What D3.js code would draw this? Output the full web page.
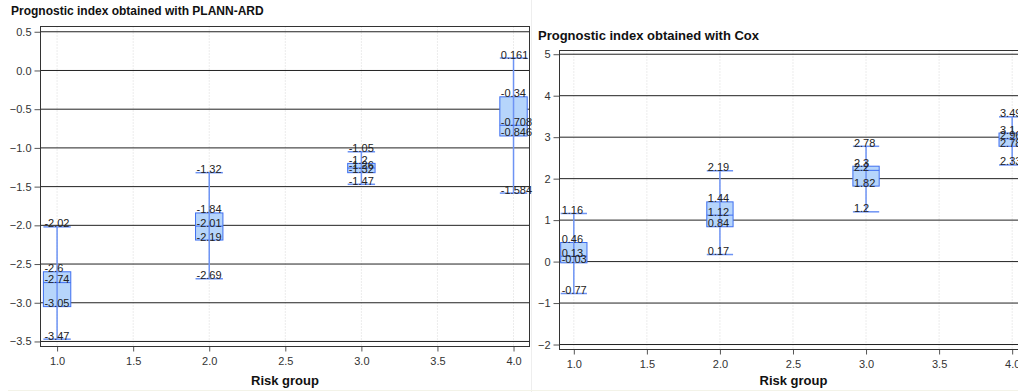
<!DOCTYPE html>
<html>
<head>
<meta charset="utf-8">
<script src="https://cdn.jsdelivr.net/npm/d3@7"></script>
<style>
  html, body { margin: 0; padding: 0; background: #fff; }
  svg { display: block; font-family: "Liberation Sans", Arial, sans-serif; }
</style>
</head>
<body>
<svg id="rootSVG" width="1018" height="392"></svg>
<script>
const riskGroups = [1, 2, 3, 4];
const xTicks = [1.0, 1.5, 2.0, 2.5, 3.0, 3.5, 4.0];

// PLANN-ARD prognostic index: whisker top, Q3, median, Q1, whisker bottom
const plannUpper = [-2.02, -1.32, -1.05, 0.161];
const plannQ3 = [-2.6, -1.84, -1.2, -0.34];
const plannMedian = [-2.74, -2.01, -1.26, -0.708];
const plannQ1 = [-3.05, -2.19, -1.32, -0.846];
const plannLower = [-3.47, -2.69, -1.47, -1.584];
const plannYTicks = [0.5, 0.0, -0.5, -1.0, -1.5, -2.0, -2.5, -3.0, -3.5];

// Cox prognostic index
const coxUpper = [1.16, 2.19, 2.78, 3.49];
const coxQ3 = [0.46, 1.44, 2.3, 3.1];
const coxMedian = [0.13, 1.12, 2.2, 2.96];
const coxQ1 = [-0.03, 0.84, 1.82, 2.78];
const coxLower = [-0.77, 0.17, 1.2, 2.33];
const coxYTicks = [5, 4, 3, 2, 1, 0, -1, -2];

const svg = d3.select("#rootSVG");

// faint page edges
svg.append("line").attr("x1", 531.5).attr("x2", 531.5).attr("y1", 0).attr("y2", 392)
  .attr("stroke", "#eeeeee");
svg.append("line").attr("x1", 8).attr("x2", 1018).attr("y1", 390.5).attr("y2", 390.5)
  .attr("stroke", "#f3f3e8");

function drawPanel(opts) {
  const g = svg.append("g");
  const x = d3.scaleLinear().domain(opts.xDomain).range(opts.xRange);
  const y = d3.scaleLinear().domain(opts.yDomain).range(opts.yRange);
  const [left, right] = opts.xRange;
  const [top, bottom] = opts.yRange;

  g.append("text").attr("x", opts.titleX).attr("y", opts.titleY)
    .attr("font-size", opts.titleSize).attr("font-weight", "bold").attr("fill", "#111")
    .text(opts.title);

  // vertical dotted grid
  g.selectAll(".vgrid").data(xTicks).enter().append("line")
    .attr("x1", d => x(d)).attr("x2", d => x(d))
    .attr("y1", top).attr("y2", bottom)
    .attr("stroke", "#d8d8d8").attr("stroke-dasharray", "1,2");

  // horizontal grid lines
  g.selectAll(".hgrid").data(opts.yTicks).enter().append("line")
    .attr("x1", left).attr("x2", right)
    .attr("y1", d => y(d)).attr("y2", d => y(d))
    .attr("stroke", "#222").attr("stroke-width", 1);

  const yAxis = g.append("g").attr("transform", `translate(${left},0)`)
    .call(d3.axisLeft(y).tickValues(opts.yTicks).tickFormat(opts.yFormat).tickSize(6).tickPadding(3));
  const xAxis = g.append("g").attr("transform", `translate(0,${bottom})`)
    .call(d3.axisBottom(x).tickValues(xTicks).tickFormat(d3.format(".1f")).tickSize(5).tickPadding(6));
  [yAxis, xAxis].forEach(a => {
    a.select(".domain").remove();
    a.selectAll(".tick line").attr("stroke", "#555");
    a.selectAll(".tick text").attr("fill", "#333").attr("font-size", 11)
      .attr("font-family", "Liberation Sans, Arial, sans-serif");
  });

  g.append("rect").attr("x", left).attr("y", top)
    .attr("width", right - left).attr("height", bottom - top)
    .attr("fill", "none").attr("stroke", "#333");

  g.append("text").attr("x", (left + right) / 2).attr("y", 385)
    .attr("text-anchor", "middle").attr("font-size", 13).attr("font-weight", "bold")
    .attr("fill", "#111").text("Risk group");

  const half = 0.09;
  const boxes = riskGroups.map((grp, i) => ({
    grp, hi: opts.upper[i], q3: opts.q3[i], med: opts.median[i], q1: opts.q1[i], lo: opts.lower[i]
  }));

  const b = g.selectAll(".box").data(boxes).enter().append("g");
  b.append("rect")
    .attr("x", d => x(d.grp - half)).attr("width", d => x(d.grp + half) - x(d.grp - half))
    .attr("y", d => y(d.q3)).attr("height", d => y(d.q1) - y(d.q3))
    .attr("fill", "#b6d5fb").attr("stroke", "#3f6ff0");
  b.append("line")
    .attr("x1", d => x(d.grp)).attr("x2", d => x(d.grp))
    .attr("y1", d => y(d.hi)).attr("y2", d => y(d.lo))
    .attr("stroke", "#6d93f4").attr("stroke-width", 1.5);
  b.append("line")
    .attr("x1", d => x(d.grp - half)).attr("x2", d => x(d.grp + half))
    .attr("y1", d => y(d.med)).attr("y2", d => y(d.med))
    .attr("stroke", "#3f6ff0");
  ["hi", "lo"].forEach(k => {
    b.append("line")
      .attr("x1", d => x(d.grp - half)).attr("x2", d => x(d.grp + half))
      .attr("y1", d => y(d[k])).attr("y2", d => y(d[k]))
      .attr("stroke", "#6d93f4").attr("stroke-width", 1.5);
  });
  ["hi", "q3", "med", "q1", "lo"].forEach(k => {
    b.append("text")
      .attr("x", d => x(d.grp - half) + 1).attr("y", d => y(d[k]) + 0.5)
      .attr("font-size", 11).attr("fill", "#222")
      .text(d => String(d[k]));
  });
}

drawPanel({
  title: "Prognostic index obtained with PLANN-ARD", titleX: 11, titleY: 15, titleSize: 12,
  xDomain: [0.891, 4.105], xRange: [40.5, 529.5],
  yDomain: [0.568, -3.565], yRange: [26.5, 346.5],
  yTicks: plannYTicks, yFormat: d3.format(".1f"),
  upper: plannUpper, q3: plannQ3, median: plannMedian, q1: plannQ1, lower: plannLower
});

drawPanel({
  title: "Prognostic index obtained with Cox", titleX: 538, titleY: 40, titleSize: 13,
  xDomain: [0.902, 4.105], xRange: [559.5, 1027.5],
  yDomain: [5.09, -2.12], yRange: [50.5, 349.5],
  yTicks: coxYTicks, yFormat: d3.format("d"),
  upper: coxUpper, q3: coxQ3, median: coxMedian, q1: coxQ1, lower: coxLower
});
</script>
</body>
</html>
